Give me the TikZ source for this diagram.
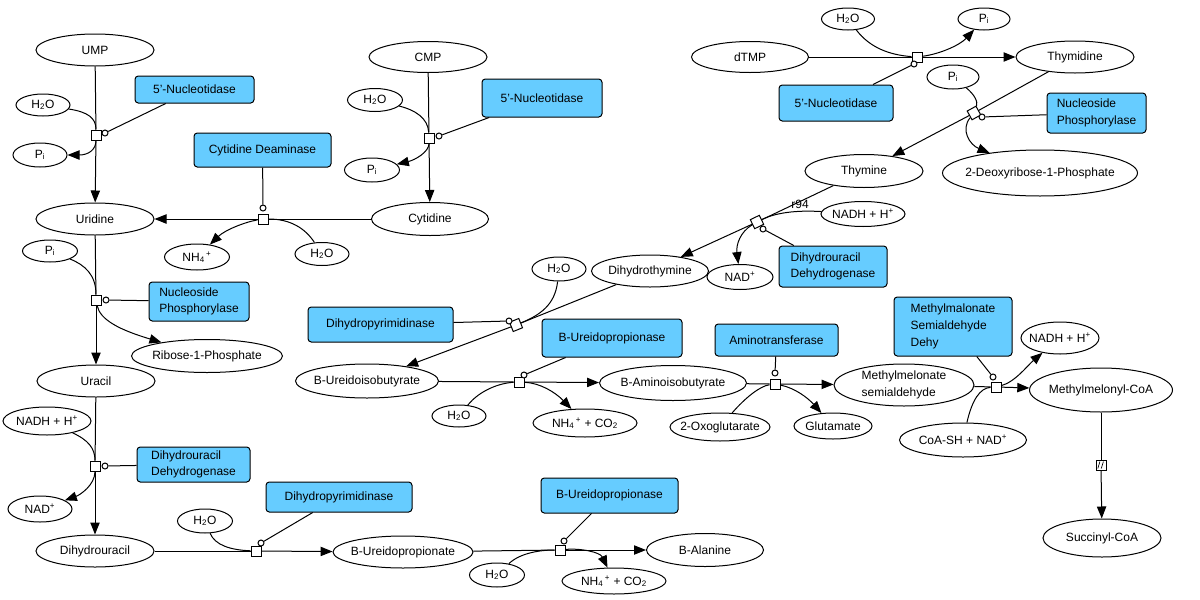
\documentclass[tikz,border=0pt]{standalone}
\usepackage{fontspec}
\setmainfont{Liberation Sans}
\usetikzlibrary{shapes.geometric,arrows.meta}
\definecolor{enzblue}{RGB}{102,204,255}
\begin{document}
\begin{tikzpicture}[x=0.75pt,y=-0.75pt,line width=0.75pt,
  font=\fontsize{9}{12.5}\selectfont,
  sp/.style 2 args={ellipse,draw,fill=white,minimum width=#1*0.75pt,minimum height=#2*0.75pt,inner xsep=-45pt,inner ysep=-12pt,align=left},
  enz/.style 2 args={rectangle,rounded corners=2.5pt,draw,fill=enzblue,minimum width=#1*0.75pt,minimum height=#2*0.75pt,inner sep=0pt,align=left},
  rx/.style={rectangle,draw,fill=white,minimum size=7.5pt,inner sep=0pt},
  cat/.style={circle,draw,fill=white,minimum size=4.5pt,inner sep=0pt},
  arr/.style={-{Triangle[length=9pt,width=7pt]}}]
\fill[white] (0,0) rectangle (1200,600);
\useasboundingbox (0,0) rectangle (1200,600);

% species
\node[sp={118}{32}] (UMP) at (95,50) {UMP};
\node[sp={54}{22}] (w1) at (43,105) {H\textsubscript{2}O};
\node[sp={54}{24}] (p1) at (40,155) {P\textsubscript{i}};
\node[sp={118}{32}] (Uridine) at (95,219) {Uridine};
\node[sp={118}{31}] (CMP) at (428,57) {CMP};
\node[sp={55}{23}] (w2) at (375,100) {H\textsubscript{2}O};
\node[sp={55}{24}] (p2) at (372,170) {P\textsubscript{i}};
\node[sp={117}{33}] (Cytidine) at (430,219) {Cytidine};
\node[sp={54}{23}] (w3) at (322,254) {H\textsubscript{2}O};
\node[sp={65}{26}] (NH4) at (197,257) {NH\textsubscript{4}\textsuperscript{\,+}};
\node[sp={55}{22}] (p3) at (50,251) {P\textsubscript{i}};
\node[sp={151}{33}] (R1P) at (207,356) {Ribose-1-Phosphate};
\node[sp={118}{32}] (Uracil) at (96,381) {Uracil};
\node[sp={88}{28}] (nadh1) at (47,421) {NADH + H\textsuperscript{+}};
\node[sp={64}{26}] (nad1) at (40,509) {NAD\textsuperscript{+}};
\node[sp={118}{32}] (DHU) at (95,551) {Dihydrouracil};
\node[sp={55}{24}] (w4) at (205,521) {H\textsubscript{2}O};
\node[sp={140}{32}] (BUP) at (403,552) {B-Ureidopropionate};
\node[sp={55}{24}] (w5) at (497,575) {H\textsubscript{2}O};
\node[sp={104}{26}] (nc1) at (614,581) {NH\textsubscript{4}\textsuperscript{\,+} + CO\textsubscript{2}};
\node[sp={117}{33}] (BAla) at (705,550) {B-Alanine};
\node[sp={143}{34}] (BUIB) at (367,381) {B-Ureidoisobutyrate};
\node[sp={54}{22}] (w6) at (459,416) {H\textsubscript{2}O};
\node[sp={104}{28}] (nc2) at (585,423) {NH\textsubscript{4}\textsuperscript{\,+} + CO\textsubscript{2}};
\node[sp={147}{35}] (BAIB) at (673,383) {B-Aminoisobutyrate};
\node[sp={54}{24}] (w7) at (559,269) {H\textsubscript{2}O};
\node[sp={117}{32}] (DHT) at (650,271) {Dihydrothymine};
\node[sp={66}{25}] (nad2) at (740,277) {NAD\textsuperscript{+}};
\node[sp={84}{25}] (nadh2) at (863,214) {NADH + H\textsuperscript{+}};
\node[sp={118}{33}] (Thymine) at (864,171) {Thymine};
\node[sp={117}{31}] (dTMP) at (750,57) {dTMP};
\node[sp={53}{22}] (w8) at (848,19) {H\textsubscript{2}O};
\node[sp={52}{22}] (p4) at (984,19) {P\textsubscript{i}};
\node[sp={118}{32}] (Thymidine) at (1075,57) {Thymidine};
\node[sp={52}{24}] (p5) at (953,77) {P\textsubscript{i}};
\node[sp={195}{46}] (dR1P) at (1040,173) {2-Deoxyribose-1-Phosphate};
\node[sp={140}{42}] (MMSA) at (904,385) {Methylmelonate\\semialdehyde};
\node[sp={100}{28}] (oxo) at (720,427) {2-Oxoglutarate};
\node[sp={78}{26}] (glu) at (833,426) {Glutamate};
\node[sp={127}{34}] (coa) at (963,440) {CoA-SH + NAD\textsuperscript{+}};
\node[sp={78}{32}] (nadh3) at (1060,338) {NADH + H\textsuperscript{+}};
\node[sp={143}{44}] (MMCoA) at (1101,390) {Methylmelonyl-CoA};
\node[sp={118}{38}] (SucCoA) at (1102,538) {Succinyl-CoA};

% enzymes
\node[enz={119}{27}] (e1) at (194.5,89.5) {5’-Nucleotidase};
\node[enz={137}{34}] (e2) at (262.5,150) {Cytidine Deaminase};
\node[enz={120}{38}] (e3) at (542,98) {5’-Nucleotidase};
\node[enz={114}{36}] (e4) at (836,103) {5’-Nucleotidase};
\node[enz={99}{40}] (e5) at (1096.5,113) {Nucleoside\\Phosphorylase};
\node[enz={108}{41}] (e6) at (833,266.5) {Dihydrouracil\\Dehydrogenase};
\node[enz={100}{39}] (e7) at (199,301.5) {Nucleoside\\Phosphorylase};
\node[enz={145}{35}] (e8) at (380.5,324.5) {Dihydropyrimidinase};
\node[enz={140}{38}] (e9) at (612,338) {B-Ureidopropionase};
\node[enz={123}{32}] (e10) at (776.5,340) {Aminotransferase};
\node[enz={118}{59}] (e11) at (953,326.5) {Methylmalonate\\Semialdehyde\\Dehy};
\node[enz={113}{35}] (e12) at (193.5,464.5) {Dihydrouracil\\Dehydrogenase};
\node[enz={146}{30}] (e13) at (339,497) {Dihydropyrimidinase};
\node[enz={137}{35}] (e14) at (609.5,495.5) {B-Ureidopropionase};

% reaction squares and catalysis circles
\node[rx] (r1) at (96,135) {};
\node[cat] (c1) at (105,133) {};
\node[rx] (r2) at (429,138) {};
\node[cat] (c2) at (439,136) {};
\node[rx] (r3) at (263,219) {};
\node[cat] (c3) at (263,208) {};
\node[rx] (r4) at (96,300) {};
\node[cat] (c4) at (106,300) {};
\node[rx] (r5) at (95,466) {};
\node[cat] (c5) at (105,466) {};
\node[rx] (r6) at (256,551) {};
\node[cat] (c6) at (261,543) {};
\node[rx] (r7) at (560,550) {};
\node[cat] (c7) at (564,541) {};
\node[rx,rotate=22] (r8) at (516,325) {};
\node[cat] (c8) at (509,321) {};
\node[rx] (r9) at (519,382) {};
\node[cat] (c9) at (524,375) {};
\node[rx] (r10) at (775,384) {};
\node[cat] (c10) at (775,373) {};
\node[rx] (r11) at (996,387) {};
\node[cat] (c11) at (993,377) {};
\node[rx] (r12) at (1101,465) {};
\draw[line width=0.5pt] ([xshift=-2.4pt,yshift=-2.6pt]r12.center) -- ++(1.6pt,5.2pt);
\draw[line width=0.5pt] ([xshift=0.2pt,yshift=-2.6pt]r12.center) -- ++(1.6pt,5.2pt);
\node[rx,rotate=26] (r13) at (757,222) {};
\node[cat] (c13) at (763,229) {};
\node (lab94) at (800,204) {r94};
\node[rx] (r14) at (917,57) {};
\node[cat] (c14) at (914,64) {};
\node[rx,rotate=29] (r15) at (974,113) {};
\node[cat] (c15) at (982,117) {};

% R1 UMP -> Uridine
\draw (UMP) -- (r1);
\draw[arr] (r1) -- (Uridine);
\draw (w1) .. controls (88,112) and (96,118) .. (r1);
\draw[arr] (r1) .. controls (96,150) and (88,155) .. (p1);
\draw (c1) -- (e1);
% R2 CMP -> Cytidine
\draw (CMP) -- (r2);
\draw[arr] (r2) -- (Cytidine);
\draw (w2) .. controls (415,110) and (428,118) .. (r2);
\draw[arr] (r2) .. controls (429,152) and (415,160) .. (p2);
\draw (c2) -- (e3);
% R3 Cytidine -> Uridine
\draw (Cytidine) -- (r3);
\draw[arr] (r3) -- (Uridine);
\draw (w3) .. controls (305,228) and (290,219) .. (r3);
\draw[arr] (r3) .. controls (245,222) and (225,230) .. (NH4);
\draw (c3) -- (e2);
% R4 Uridine -> Uracil
\draw (Uridine) -- (r4);
\draw[arr] (r4) -- (Uracil);
\draw (p3) .. controls (85,265) and (96,275) .. (r4);
\draw[arr] (r4) .. controls (100,320) and (120,330) .. (R1P);
\draw (c4) -- (e7);
% R5 Uracil -> Dihydrouracil
\draw (Uracil) -- (r5);
\draw[arr] (r5) -- (DHU);
\draw (nadh1) .. controls (88,440) and (95,448) .. (r5);
\draw[arr] (r5) .. controls (95,485) and (80,495) .. (nad1);
\draw (c5) -- (e12);
% R6 Dihydrouracil -> B-Ureidopropionate
\draw (DHU) -- (r6);
\draw[arr] (r6) -- (BUP);
\draw (w4) .. controls (215,545) and (230,550) .. (r6);
\draw (c6) -- (e13);
% R7 B-Ureidopropionate -> B-Alanine
\draw (BUP) -- (r7);
\draw[arr] (r7) -- (BAla);
\draw (w5) .. controls (520,553) and (540,550) .. (r7);
\draw[arr] (r7) .. controls (580,548) and (600,552) .. (nc1);
\draw (c7) -- (e14);
% R8 Dihydrothymine -> B-Ureidoisobutyrate
\draw (DHT) -- (r8);
\draw[arr] (r8) -- (BUIB);
\draw (w7) .. controls (555,305) and (540,315) .. (r8);
\draw (c8) -- (e8);
% R9 B-Ureidoisobutyrate -> B-Aminoisobutyrate
\draw (BUIB) -- (r9);
\draw[arr] (r9) -- (BAIB);
\draw (w6) .. controls (480,390) and (500,383) .. (r9);
\draw[arr] (r9) .. controls (540,383) and (555,392) .. (nc2);
\draw (c9) -- (e9);
% R10 B-Aminoisobutyrate -> Methylmelonate semialdehyde
\draw (BAIB) -- (r10);
\draw[arr] (r10) -- (MMSA);
\draw (oxo) .. controls (745,398) and (760,386) .. (r10);
\draw[arr] (r10) .. controls (795,388) and (808,398) .. (glu);
\draw (c10) -- (e10);
% R11 Methylmelonate semialdehyde -> Methylmelonyl-CoA
\draw (MMSA) -- (r11);
\draw[arr] (r11) -- (MMCoA);
\draw (coa) .. controls (972,400) and (980,388) .. (r11);
\draw[arr] (r11) .. controls (1015,382) and (1028,365) .. (nadh3);
\draw (c11) -- (e11);
% R12 Methylmelonyl-CoA -> Succinyl-CoA
\draw (MMCoA) -- (r12);
\draw[arr] (r12) -- (SucCoA);
% R13 Thymine -> Dihydrothymine
\draw (Thymine) -- (r13);
\draw[arr] (r13) -- (DHT);
\draw (nadh2) .. controls (795,210) and (775,213) .. (r13);
\draw[arr] (r13) .. controls (740,232) and (736,245) .. (nad2);
\draw (c13) -- (e6);
% R14 dTMP -> Thymidine
\draw (dTMP) -- (r14);
\draw[arr] (r14) -- (Thymidine);
\draw (w8) .. controls (870,48) and (890,55) .. (r14);
\draw[arr] (r14) .. controls (940,54) and (960,45) .. (p4);
\draw (c14) -- (e4);
% R15 Thymidine -> Thymine
\draw (Thymidine) -- (r15);
\draw[arr] (r15) -- (Thymine);
\draw (p5) .. controls (975,95) and (978,102) .. (r15);
\draw[arr] (r15) .. controls (960,130) and (970,145) .. (dR1P);
\draw (c15) -- (e5);
\end{tikzpicture}
\end{document}
